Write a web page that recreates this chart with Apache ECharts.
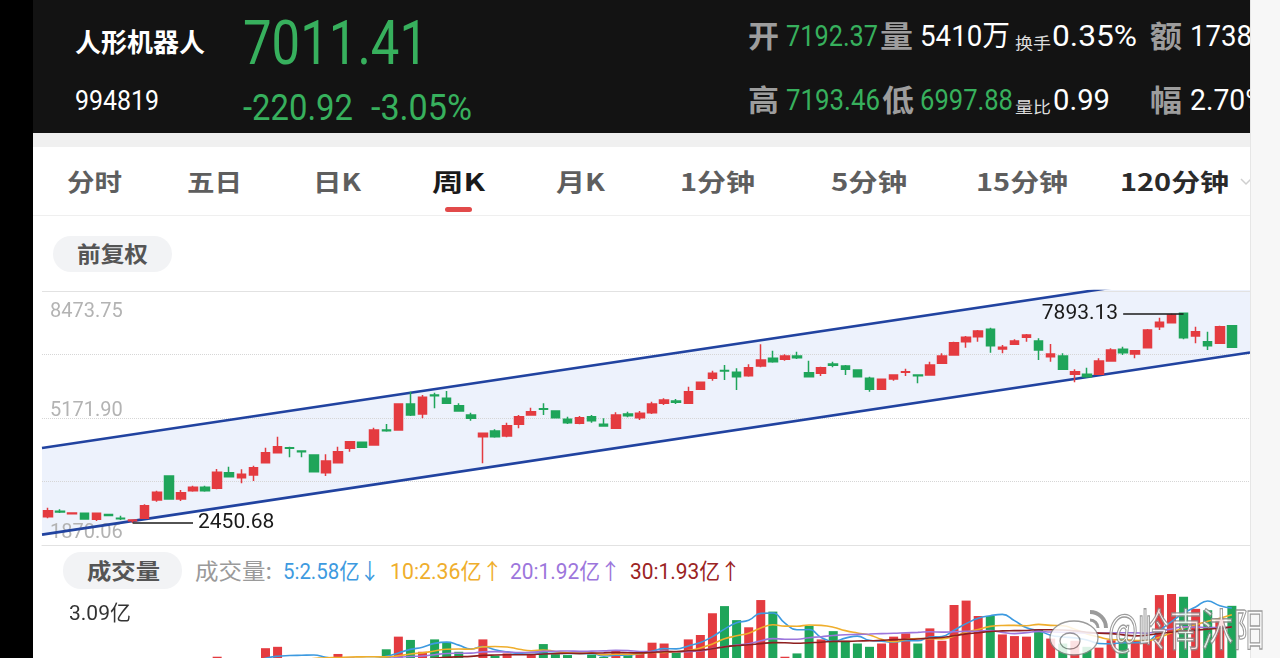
<!DOCTYPE html>
<html>
<head>
<meta charset="utf-8">
<script src="https://cdn.jsdelivr.net/npm/echarts/dist/echarts.min.js"></script>
<style>
  html, body { margin: 0; padding: 0; width: 1280px; height: 658px; overflow: hidden; background: #000; }
  #bg, #over { position: absolute; left: 0; top: 0; }
  #over { pointer-events: none; }
  #chart { position: absolute; left: 0; top: 0; width: 1280px; height: 700px; }
  text { font-family: "Noto Sans CJK SC", sans-serif; }
  .num { font-family: Roboto, "Noto Sans CJK SC", sans-serif; }
</style>
</head>
<body>
<svg id="bg" width="1280" height="658">
  <rect width="1280" height="658" fill="#fff"/>
  <rect width="33" height="658" fill="#000"/>
  <rect x="33" width="1217" height="133" fill="#131313"/>
  <rect x="33" y="133" width="1217" height="14" fill="#f0f0f0"/>
  <!-- 头部行情 -->
  <text x="75" y="52" font-size="26" font-weight="bold" fill="#fff" textLength="130" lengthAdjust="spacingAndGlyphs">人形机器人</text>
  <text class="num" x="75" y="110" font-size="27" fill="#fff" textLength="84" lengthAdjust="spacingAndGlyphs">994819</text>
  <text class="num" x="243" y="64" font-size="62" fill="#37b05d" textLength="185" lengthAdjust="spacingAndGlyphs">7011.41</text>
  <text class="num" x="243" y="120" font-size="37" fill="#37b05d" textLength="110" lengthAdjust="spacingAndGlyphs">-220.92</text>
  <text class="num" x="371" y="120" font-size="37" fill="#37b05d" textLength="101" lengthAdjust="spacingAndGlyphs">-3.05%</text>

  <text x="748" y="47" font-size="30" font-weight="bold" fill="#9d9d9d" textLength="31" lengthAdjust="spacingAndGlyphs">开</text>
  <text class="num" x="786" y="46" font-size="29" fill="#37b05d" textLength="92" lengthAdjust="spacingAndGlyphs">7192.37</text>
  <text x="880" y="47" font-size="30" font-weight="bold" fill="#9d9d9d" textLength="33" lengthAdjust="spacingAndGlyphs">量</text>
  <text class="num" x="920" y="46" font-size="29" fill="#fff" textLength="90" lengthAdjust="spacingAndGlyphs">5410万</text>
  <text x="1015" y="49" font-size="16" fill="#ddd" textLength="36" lengthAdjust="spacingAndGlyphs">换手</text>
  <text class="num" x="1052" y="46" font-size="29" fill="#fff" textLength="85" lengthAdjust="spacingAndGlyphs">0.35%</text>
  <text x="1150" y="47" font-size="30" font-weight="bold" fill="#9d9d9d" textLength="32" lengthAdjust="spacingAndGlyphs">额</text>
  <text class="num" x="1190" y="46" font-size="29" fill="#fff" textLength="62" lengthAdjust="spacingAndGlyphs">1738</text>

  <text x="748" y="111" font-size="30" font-weight="bold" fill="#9d9d9d" textLength="31" lengthAdjust="spacingAndGlyphs">高</text>
  <text class="num" x="786" y="110" font-size="29" fill="#37b05d" textLength="94" lengthAdjust="spacingAndGlyphs">7193.46</text>
  <text x="882" y="111" font-size="30" font-weight="bold" fill="#9d9d9d" textLength="32" lengthAdjust="spacingAndGlyphs">低</text>
  <text class="num" x="920" y="110" font-size="29" fill="#37b05d" textLength="93" lengthAdjust="spacingAndGlyphs">6997.88</text>
  <text x="1015" y="113" font-size="16" fill="#ddd" textLength="36" lengthAdjust="spacingAndGlyphs">量比</text>
  <text class="num" x="1053" y="110" font-size="29" fill="#fff" textLength="57" lengthAdjust="spacingAndGlyphs">0.99</text>
  <text x="1150" y="111" font-size="30" font-weight="bold" fill="#9d9d9d" textLength="32" lengthAdjust="spacingAndGlyphs">幅</text>
  <text class="num" x="1190" y="110" font-size="29" fill="#fff" textLength="76" lengthAdjust="spacingAndGlyphs">2.70%</text>

  <!-- 周期切换 -->
  <g font-size="24" font-weight="bold" fill="#5e5e5e">
    <text x="67" y="191" textLength="55" lengthAdjust="spacingAndGlyphs">分时</text>
    <text x="187" y="191" textLength="55" lengthAdjust="spacingAndGlyphs">五日</text>
    <text x="313" y="191" textLength="48" lengthAdjust="spacingAndGlyphs">日K</text>
    <text x="432" y="191" fill="#1a1a1a" textLength="53" lengthAdjust="spacingAndGlyphs">周K</text>
    <text x="556" y="191" textLength="49" lengthAdjust="spacingAndGlyphs">月K</text>
    <text x="680" y="191" textLength="75" lengthAdjust="spacingAndGlyphs">1分钟</text>
    <text x="831" y="191" textLength="76" lengthAdjust="spacingAndGlyphs">5分钟</text>
    <text x="976" y="191" textLength="92" lengthAdjust="spacingAndGlyphs">15分钟</text>
    <text x="1120" y="191" fill="#2a2a2a" textLength="109" lengthAdjust="spacingAndGlyphs">120分钟</text>
  </g>
  <path d="M1241 179 l5 5 l5 -5" fill="none" stroke="#cfcfcf" stroke-width="1.5"/>
  <rect x="445" y="207" width="27" height="5" rx="2.5" fill="#e24a4a"/>
  <line x1="33" y1="215.5" x2="1250" y2="215.5" stroke="#efefef"/>

  <rect x="53" y="236" width="119" height="36" rx="18" fill="#f2f3f5"/>
  <text x="77" y="262" font-size="22" font-weight="bold" fill="#555" textLength="71" lengthAdjust="spacingAndGlyphs">前复权</text>

  <!-- 成交量标题 -->
  <rect x="63" y="552" width="119" height="37" rx="18" fill="#f2f3f5"/>
  <text x="87" y="579" font-size="22" font-weight="bold" fill="#555" textLength="73" lengthAdjust="spacingAndGlyphs">成交量</text>
  <text x="195" y="579" font-size="22" fill="#9a9a9a" textLength="77" lengthAdjust="spacingAndGlyphs">成交量:</text>
  <text class="num" x="283" y="579" font-size="22" fill="#3d9ae0" textLength="97" lengthAdjust="spacingAndGlyphs">5:2.58亿↓</text>
  <text class="num" x="390" y="579" font-size="22" fill="#efae2c" textLength="113" lengthAdjust="spacingAndGlyphs">10:2.36亿↑</text>
  <text class="num" x="510" y="579" font-size="22" fill="#9c76dc" textLength="111" lengthAdjust="spacingAndGlyphs">20:1.92亿↑</text>
  <text class="num" x="630" y="579" font-size="22" fill="#9b2323" textLength="111" lengthAdjust="spacingAndGlyphs">30:1.93亿↑</text>
</svg>

<div id="chart"></div>

<svg id="over" width="1280" height="658">
  <rect x="1250" y="0" width="30" height="658" fill="#f7f7f7"/>
  <line x1="1250.5" y1="0" x2="1250.5" y2="658" stroke="#e6e6e6"/>
  <g opacity="0.85" fill="#fff" stroke="#8a8a8a" stroke-width="1.3">
    <ellipse cx="1074" cy="638" rx="24" ry="17"/>
    <ellipse cx="1070" cy="641" rx="10" ry="8"/>
    <path d="M1090 612 a16 16 0 0 1 16 16" fill="none" stroke-width="4"/>
    <path d="M1090 620 a8 8 0 0 1 8 8" fill="none" stroke-width="3"/>
    <text x="1108" y="646" font-size="44" textLength="157" lengthAdjust="spacingAndGlyphs">@岭南沐阳</text>
  </g>
</svg>

<script>
// 周K 分类
const weeks = Array.from({ length: 100 }, (_, i) => 'W' + (i + 1));

// K线 [开, 收, 低, 高]
const kData = [
  [2606, 2762, 2563, 2840], [2745, 2728, 2700, 2797], [2680, 2700, 2665, 2720], [2693, 2546, 2530, 2710],
  [2537, 2693, 2494, 2710], [2660, 2640, 2625, 2675], [2565, 2550, 2520, 2632], [2500, 2520, 2450.68, 2530],
  [2563, 2892, 2546, 2927], [3040, 3239, 2996, 3283], [3664, 3066, 3050, 3680], [3066, 3230, 3014, 3300],
  [3283, 3369, 3257, 3412], [3369, 3283, 3257, 3412], [3343, 3759, 3317, 3846], [3750, 3646, 3629, 3906],
  [3620, 3707, 3473, 3837], [3690, 3880, 3534, 3932], [4010, 4270, 3993, 4400], [4270, 4426, 4253, 4686],
  [4400, 4383, 4149, 4426], [4314, 4296, 4149, 4320], [4210, 3776, 3760, 4220], [3750, 4054, 3664, 4227],
  [4010, 4296, 3993, 4426], [4383, 4556, 4296, 4574], [4539, 4409, 4400, 4550], [4470, 4860, 4452, 4920],
  [4860, 4842, 4816, 5016], [4860, 5536, 4850, 5550], [5536, 5250, 5224, 5856], [5276, 5709, 5163, 5770],
  [5770, 5750, 5423, 5830], [5683, 5553, 5536, 5874], [5492, 5354, 5336, 5553], [5250, 5163, 5102, 5310],
  [4686, 4773, 3993, 4780], [4834, 4686, 4660, 4877], [4704, 4972, 4669, 5050], [5007, 5206, 4903, 5250],
  [5250, 5336, 5232, 5440], [5415, 5398, 5250, 5553], [5354, 5180, 5170, 5365], [5137, 5050, 5016, 5206],
  [5033, 5180, 5007, 5224], [5206, 5102, 5050, 5250], [5007, 4964, 4946, 5163], [4903, 5250, 4886, 5319],
  [5276, 5232, 5189, 5336], [5180, 5293, 5120, 5354], [5310, 5536, 5276, 5596], [5553, 5640, 5510, 5683],
  [5614, 5579, 5536, 5666], [5553, 5856, 5536, 5986], [5917, 6099, 5900, 6110], [6203, 6333, 6143, 6403],
  [6410, 6395, 6160, 6550], [6359, 6247, 5900, 6463], [6273, 6481, 6247, 6567], [6524, 6680, 6489, 7087],
  [6723, 6637, 6611, 6923], [6697, 6784, 6663, 6827], [6784, 6741, 6706, 6897], [6351, 6247, 6229, 6663],
  [6333, 6481, 6264, 6507], [6576, 6541, 6489, 6637], [6524, 6437, 6290, 6550], [6420, 6247, 6229, 6430],
  [6203, 5917, 5856, 6247], [5917, 6177, 5900, 6190], [6186, 6290, 6143, 6307], [6360, 6375, 6264, 6455],
  [6290, 6273, 6073, 6307], [6290, 6550, 6273, 6637], [6593, 6784, 6576, 6853], [6810, 7131, 6793, 7157],
  [7157, 7269, 7001, 7304], [7287, 7434, 7157, 7460], [7477, 7053, 6871, 7521], [6966, 7009, 6853, 7070],
  [7087, 7174, 7070, 7217], [7269, 7330, 7157, 7356], [7174, 6940, 6680, 7243], [6767, 6836, 6637, 7096],
  [6784, 6437, 6420, 6853], [6307, 6377, 6099, 6437], [6307, 6247, 6221, 6481], [6307, 6654, 6290, 6723],
  [6654, 6940, 6637, 6983], [6957, 6871, 6810, 7027], [6836, 6923, 6723, 6940], [7001, 7460, 6983, 7486],
  [7547, 7659, 7460, 7781], [7651, 7850, 7633, 7880], [7893, 7261, 7217, 7893.13], [7304, 7417, 7113, 7547],
  [7157, 7053, 6940, 7417], [7113, 7547, 7096, 7573], [7573, 7011.41, 6997.88, 7590]
];

// 成交量（亿）
const volumes = [
  0.45, 0.35, 0.30, 0.40, 0.38, 0.30, 0.35, 0.40, 0.70, 0.65,
  0.74, 0.60, 0.50, 0.45, 0.81, 0.60, 0.55, 0.70, 1.12, 1.17,
  0.72, 0.60, 0.74, 0.70, 0.91, 0.78, 0.60, 0.74, 1.08, 1.54,
  1.42, 0.99, 1.44, 1.32, 0.99, 0.72, 1.44, 0.85, 0.93, 0.72,
  0.87, 1.27, 0.90, 0.87, 0.70, 0.89, 0.80, 1.05, 0.90, 0.97,
  1.32, 1.29, 0.99, 1.44, 1.60, 2.39, 2.65, 2.14, 1.88, 2.87,
  2.45, 0.81, 0.93, 1.93, 1.44, 1.74, 1.39, 1.29, 1.17, 1.29,
  1.54, 1.66, 1.29, 1.84, 1.39, 2.69, 2.85, 2.29, 2.29, 1.62,
  1.56, 1.54, 1.78, 1.47, 1.29, 1.39, 1.17, 1.14, 1.41, 1.47,
  1.41, 1.41, 3.05, 3.09, 2.99, 2.55, 2.50, 2.20, 2.66
];

// 纵轴刻度
const priceTicks = [1870.06, 3520.98, 5171.90, 6822.83, 8473.75];
const volMax = 3.09;

// 最高/最低标注 [周序号, 价格]
const lowMark = [7, 2450.68];
const highMark = [94, 7893.13];

// 通道线 [起点, 终点]
const channelEnds = ['起', '止'];
const channelLower = [2140, 6875];
const channelUpper = [4390, 9100];

const maDefs = [
  { n: 5, color: '#3d9ae0' },
  { n: 10, color: '#efae2c' },
  { n: 20, color: '#9c76dc' },
  { n: 30, color: '#8e1f1f' },
];

const UP = '#e43b40';
const DOWN = '#1fa55a';
const numFont = 'Roboto, "Noto Sans CJK SC", sans-serif';

function calcMA(n) {
  return volumes.map((v, i) => {
    if (i < n - 1) return '-';
    let s = 0;
    for (let j = i - n + 1; j <= i; j++) s += volumes[j];
    return +(s / n).toFixed(4);
  });
}

const myChart = echarts.init(document.getElementById('chart'));

const lastTick = priceTicks.length - 1;
const gridLines = priceTicks.map((v, i) => {
  const edge = i === 0 || i === lastTick;
  return {
    yAxis: v,
    lineStyle: edge
      ? { color: '#e2e2e2', type: 'solid', width: 1 }
      : { color: '#d6d6d6', type: 'dotted', width: 1 },
    label: {
      show: i % 2 === 0,
      formatter: v.toFixed(2),
      position: i === lastTick ? 'insideStartBottom' : 'insideStartTop',
      distance: i === 0 ? [8, 2] : (i === lastTick ? [8, 11] : [8, -3]),
      color: '#b3b3b3',
      fontSize: 20,
      fontFamily: numFont,
    },
  };
});

const option = {
  animation: false,
  grid: [
    { left: 42, top: 291, width: 1208, height: 254 },
    { left: 42, top: 594, width: 1208, height: 85 },
  ],
  xAxis: [
    {
      type: 'category', gridIndex: 0, data: weeks,
      axisLine: { lineStyle: { color: '#e2e2e2' } },
      axisTick: { show: false }, axisLabel: { show: false }, splitLine: { show: false },
    },
    {
      type: 'category', gridIndex: 0, data: channelEnds, boundaryGap: false, position: 'top',
      axisLine: { show: false },
      axisTick: { show: false }, axisLabel: { show: false }, splitLine: { show: false },
    },
    {
      type: 'category', gridIndex: 1, data: weeks, position: 'top',
      axisLine: { lineStyle: { color: '#e6e6e6' } },
      axisTick: { show: false }, axisLabel: { show: false }, splitLine: { show: false },
    },
  ],
  yAxis: [
    {
      type: 'value', gridIndex: 0, min: priceTicks[0], max: priceTicks[lastTick],
      axisLine: { show: false }, axisTick: { show: false }, axisLabel: { show: false }, splitLine: { show: false },
    },
    {
      type: 'value', gridIndex: 1, min: 0, max: volMax, interval: volMax,
      axisLine: { show: false }, axisTick: { show: false }, splitLine: { show: false },
      axisLabel: {
        inside: true, margin: 27, verticalAlign: 'top', padding: [10, 0, 0, 0],
        color: '#333', fontSize: 21, fontFamily: numFont,
        formatter: (v) => (v === volMax ? volMax.toFixed(2) + '亿' : ''),
      },
    },
  ],
  series: [
    // 通道底色
    {
      type: 'line', xAxisIndex: 1, yAxisIndex: 0, stack: 'channel', z: 1,
      data: channelLower,
      showSymbol: false, lineStyle: { opacity: 0 }, silent: true,
      markLine: { z: 2, silent: true, symbol: 'none', data: gridLines },
    },
    {
      type: 'line', xAxisIndex: 1, yAxisIndex: 0, stack: 'channel', z: 1,
      data: channelUpper.map((v, i) => v - channelLower[i]),
      showSymbol: false, lineStyle: { opacity: 0 }, silent: true,
      areaStyle: { color: '#edf2fc', opacity: 1 },
    },
    // 通道线
    {
      type: 'line', xAxisIndex: 1, yAxisIndex: 0, z: 3,
      data: channelLower,
      showSymbol: false, lineStyle: { color: '#2143a0', width: 2.6 },
    },
    {
      type: 'line', xAxisIndex: 1, yAxisIndex: 0, z: 3,
      data: channelUpper,
      showSymbol: false, lineStyle: { color: '#2143a0', width: 2.6 },
    },
    // K线
    {
      type: 'candlestick', xAxisIndex: 0, yAxisIndex: 0, z: 4,
      data: kData, barWidth: 9,
      itemStyle: { color: UP, color0: DOWN, borderColor: UP, borderColor0: DOWN, borderWidth: 1.5 },
      markLine: {
        silent: true, symbol: 'none',
        lineStyle: { color: '#1a1a1a', width: 1.5, type: 'solid' },
        label: { position: 'end', distance: 5, color: '#1a1a1a', fontSize: 21, fontFamily: numFont },
        data: [
          [{ coord: [lowMark[0], lowMark[1]] }, { coord: [lowMark[0] + 5, lowMark[1]], label: { formatter: lowMark[1].toFixed(2) } }],
          [{ coord: [highMark[0], highMark[1]] }, { coord: [highMark[0] - 5, highMark[1]], label: { formatter: highMark[1].toFixed(2) } }],
        ],
      },
    },
    // 成交量
    {
      type: 'bar', xAxisIndex: 2, yAxisIndex: 1, barWidth: 9,
      data: volumes.map((v, i) => ({
        value: v,
        itemStyle: { color: kData[i][1] >= kData[i][0] ? UP : DOWN },
      })),
    },
    ...maDefs.map((m) => ({
      type: 'line', xAxisIndex: 2, yAxisIndex: 1, z: 3,
      data: calcMA(m.n), smooth: true, showSymbol: false,
      lineStyle: { color: m.color, width: 1.6 },
    })),
  ],
};

myChart.setOption(option);
</script>
</body>
</html>
